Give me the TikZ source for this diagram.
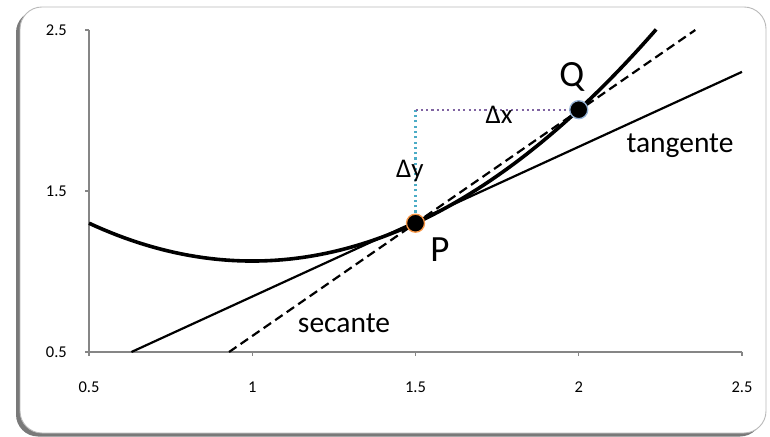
\documentclass[tikz,border=0pt]{standalone}
\usepackage{fontspec}
\setmainfont{Carlito}
\usetikzlibrary{shadows}
\definecolor{axisgray}{HTML}{868686}
\definecolor{dotteal}{HTML}{4BACC6}
\definecolor{dotpurple}{HTML}{8064A2}
\definecolor{pborder}{HTML}{F79646}
\definecolor{qborder}{HTML}{95B3D7}
\tikzset{
  ticklab/.style={font=\fontsize{16.5}{18}\selectfont, inner sep=0pt},
  biglab/.style={font=\fontsize{29.5}{32}\selectfont, inner sep=0pt, anchor=base},
  ptlab/.style={font=\fontsize{37}{40}\selectfont, inner sep=0pt, anchor=base},
  dlab/.style={font=\fontsize{27}{30}\selectfont, inner sep=0pt, anchor=base},
  ptdot/.style={circle, fill=black, line width=1.3pt, inner sep=0pt, minimum size=18pt},
  dotline/.style={line width=2.1pt, dash pattern=on 2.1pt off 3.2pt},
}
\begin{document}
\begin{tikzpicture}[x=1pt,y=1pt]
\useasboundingbox (0,0) rectangle (770,436);
\node[draw=gray!55, line width=0.9pt, fill=white, rounded corners=22pt,
  minimum width=746pt, minimum height=426pt, inner sep=0pt,
  drop shadow={shadow xshift=-4pt, shadow yshift=-3.5pt, opacity=0.7, fill=black!75}]
  (frame) at (393,216) {};
\begin{scope}[shift={(-74.25,3.5)}, x=326.5pt, y=161pt]
  % axes
  \coordinate (ytop) at (0.5,2.5);
  \coordinate (org) at (0.5,0.5);
  \coordinate (xend) at (2.5,0.5);
  \draw[axisgray, line width=1.1pt] (ytop) -- (org) -- (xend);
  \foreach \y/\n in {0.5/a,1.5/b,2.5/c}{
    \coordinate (yt\n) at (0.5,\y);
    \draw[axisgray, line width=1.1pt] (yt\n) -- ++(-4.5pt,0);
    \node[ticklab, anchor=base east] (ylab\n) at ([xshift=-22pt,yshift=-5.5pt]yt\n) {\y};
  }
  \foreach \x/\n in {0.5/a,1/b,1.5/c,2/d,2.5/e}{
    \coordinate (xt\n) at (\x,0.5);
    \draw[axisgray, line width=1.1pt] (xt\n) -- ++(0,-4.5pt);
    \node[ticklab, anchor=base] (xlab\n) at ([yshift=-40pt]xt\n) {\x};
  }
  % key points
  \coordinate (pp) at (1.5,1.3);
  \coordinate (qq) at (2,2.005);
  \coordinate (cc) at (1.5,2.005);
  % tangent
  \coordinate (t1) at (0.63,0.5);
  \coordinate (t2) at (2.5,2.24);
  \draw[line width=2.2pt] (t1) -- (t2);
  % secant
  \coordinate (s1) at (0.929,0.5);
  \coordinate (s2) at (2.357,2.5);
  \draw[line width=2.2pt, dash pattern=on 9pt off 5pt] (s1) -- (s2);
  % curve
  \draw[line width=3.6pt, line join=round] plot[domain=0.5:2.238, samples=80] (\x, {0.94*(\x-1)^2+1.065});
  % delta lines
  \draw[dotteal, dotline] (pp) -- (cc);
  \draw[dotpurple, dotline] (cc) -- (qq);
  % points
  \node[ptdot, draw=pborder] (P) at (pp) {};
  \node[ptdot, draw=qborder] (Q) at (qq) {};
  % labels
  \node[ptlab] (Qlab) at (1.979,2.146) {Q};
  \node[ptlab] (Plab) at (1.575,1.059) {P};
  \node[biglab] (tlab) at (2.310,1.742) {tangente};
  \node[biglab] (slab) at (1.281,0.624) {secante};
  \node[dlab] (dx) at (1.756,1.922) {Δx};
  \node[dlab] (dy) at (1.483,1.581) {Δy};
\end{scope}
\end{tikzpicture}
\end{document}
